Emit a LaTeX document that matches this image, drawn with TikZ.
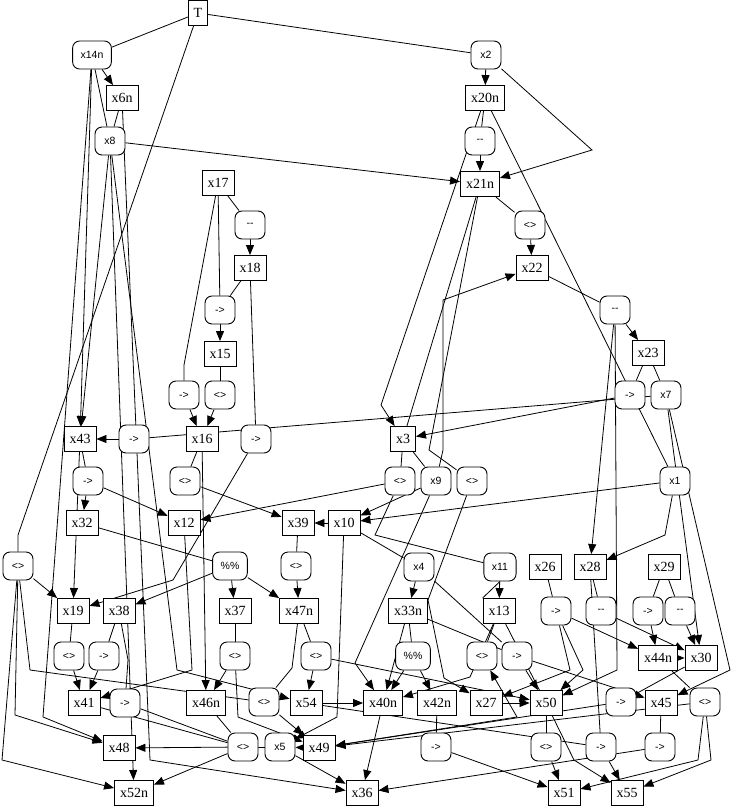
\documentclass[tikz,border=0pt]{standalone}
\usepackage{fontspec}
\setmainfont{Liberation Serif}
\newfontfamily\opfont{Liberation Sans}
\usetikzlibrary{arrows.meta, positioning, backgrounds}
\tikzset{
  box/.style={rectangle, draw=black, line width=0.9pt, fill=white,
              minimum height=25pt, inner xsep=5.5pt, inner ysep=2pt,
              font=\fontsize{14}{14}\selectfont},
  opbox/.style={rectangle, rounded corners=7pt, draw=black, line width=0.9pt,
                fill=white, minimum height=28pt, minimum width=30pt,
                inner xsep=8pt, font=\opfont\fontsize{10.5}{10.5}\selectfont},
  line/.style={draw=black, line width=0.8pt},
  arrow/.style={-{Triangle[length=10pt, width=8pt]}, line width=0.8pt, draw=black},
}

\begin{document}
\begin{tikzpicture}[x=1pt, y=-1pt]
  \useasboundingbox (0,0) rectangle (733,808);

  % Variables
  \node[box] (T) at (198,13) {T};
  \node[box] (x6n) at (122,98) {x6n};
  \node[box] (x20n) at (485,98) {x20n};
  \node[box] (x21n) at (480,184) {x21n};
  \node[box] (x17) at (218,183) {x17};
  \node[box] (x18) at (250,268) {x18};
  \node[box] (x22) at (532,268) {x22};
  \node[box] (x15) at (220,354) {x15};
  \node[box] (x23) at (648,353) {x23};
  \node[box] (x43) at (80,439) {x43};
  \node[box] (x16) at (202,439) {x16};
  \node[box] (x3) at (403,439) {x3};
  \node[box] (x32) at (82,523) {x32};
  \node[box] (x12) at (184,523) {x12};
  \node[box] (x39) at (298,523) {x39};
  \node[box] (x10) at (344,523) {x10};
  \node[box] (x26) at (545,567) {x26};
  \node[box] (x28) at (590,567) {x28};
  \node[box] (x29) at (664,567) {x29};
  \node[box] (x19) at (73,611) {x19};
  \node[box] (x38) at (119,611) {x38};
  \node[box] (x37) at (235,611) {x37};
  \node[box] (x47n) at (299,611) {x47n};
  \node[box] (x33n) at (408,611) {x33n};
  \node[box] (x13) at (499,611) {x13};
  \node[box] (x44n) at (658,658) {x44n};
  \node[box] (x30) at (701,658) {x30};
  \node[box] (x41) at (84,703) {x41};
  \node[box] (x46n) at (206,703) {x46n};
  \node[box] (x54) at (306,703) {x54};
  \node[box] (x40n) at (383,703) {x40n};
  \node[box] (x42n) at (437,703) {x42n};
  \node[box] (x27) at (486,703) {x27};
  \node[box] (x50) at (546,703) {x50};
  \node[box] (x45) at (661,703) {x45};
  \node[box] (x48) at (119,748) {x48};
  \node[box] (x49) at (319,748) {x49};
  \node[box] (x52n) at (134,793) {x52n};
  \node[box] (x36) at (362,793) {x36};
  \node[box] (x51) at (564,793) {x51};
  \node[box] (x55) at (627,793) {x55};

  \node[opbox] (x14n) at (92,55) {x14n};
  \node[opbox] (x2) at (486,55) {x2};
  \node[opbox] (x8) at (110,141) {x8};
  \node[opbox] (x7) at (666,395) {x7};
  \node[opbox] (x9) at (436,481) {x9};
  \node[opbox] (x1) at (675,481) {x1};
  \node[opbox] (x4) at (419,567) {x4};
  \node[opbox] (x11) at (500,567) {x11};
  \node[opbox] (x5) at (280,747) {x5};

  % Operators
  \node[opbox] (dec1) at (480,141) {{-}{-}};
  \node[opbox] (dec2) at (250,225) {{-}{-}};
  \node[opbox] (neq1) at (530,225) {<>};
  \node[opbox] (dec3) at (615,310) {{-}{-}};
  \node[opbox] (imp1) at (220,310) {->};
  \node[opbox] (imp2) at (184,395) {->};
  \node[opbox] (neq2) at (220,395) {<>};
  \node[opbox] (imp3) at (630,395) {->};
  \node[opbox] (imp4) at (134,439) {->};
  \node[opbox] (imp5) at (256,439) {->};
  \node[opbox] (imp6) at (88,481) {->};
  \node[opbox] (neq3) at (185,481) {<>};
  \node[opbox] (neq4) at (400,481) {<>};
  \node[opbox] (neq5) at (472,481) {<>};
  \node[opbox] (neq6) at (18,566) {<>};
  \node[opbox] (mod1) at (230,566) {\%\%};
  \node[opbox] (neq7) at (296,566) {<>};
  \node[opbox] (imp7) at (556,611) {->};
  \node[opbox] (dec4) at (601,611) {{-}{-}};
  \node[opbox] (imp8) at (648,611) {->};
  \node[opbox] (dec5) at (680,611) {{-}{-}};
  \node[opbox] (neq8) at (69,656) {<>};
  \node[opbox] (imp9) at (104,656) {->};
  \node[opbox] (neq9) at (235,656) {<>};
  \node[opbox] (neq10) at (316,656) {<>};
  \node[opbox] (mod2) at (413,656) {\%\%};
  \node[opbox] (neq11) at (482,656) {<>};
  \node[opbox] (imp10) at (517,656) {->};
  \node[opbox] (imp11) at (125,703) {->};
  \node[opbox] (neq12) at (264,702) {<>};
  \node[opbox] (imp12) at (621,702) {->};
  \node[opbox] (neq13) at (705,702) {<>};
  \node[opbox] (neq14) at (243,747) {<>};
  \node[opbox] (imp13) at (436,747) {->};
  \node[opbox] (neq15) at (546,747) {<>};
  \node[opbox] (imp14) at (601,747) {->};
  \node[opbox] (imp15) at (660,747) {->};

  % Bends
  \coordinate (bT) at (18,535);
  \coordinate (bX2) at (592,150);
  \coordinate (bX17) at (184,365);
  \coordinate (bX20) at (381,405);
  \coordinate (bX9a) at (443,450);
  \coordinate (bX9b) at (443,300);
  \coordinate (bX21) at (429,450);
  \coordinate (bN4) at (375,535);
  \coordinate (bX1) at (665,535);
  \coordinate (bImp5) at (173,580);
  \coordinate (bN6a) at (15,715);
  \coordinate (bN6b) at (2,760);
  \coordinate (bN6c) at (30,670);
  \coordinate (bX14) at (43,717);
  \coordinate (bX38) at (128,660);
  \coordinate (bX47) at (292,668);
  \coordinate (bX12) at (192,670);
  \coordinate (bX8) at (177,670);
  \coordinate (bN9) at (238,717);
  \coordinate (bX9c) at (355,663);
  \coordinate (bX13) at (470,677);
  \coordinate (bN5a) at (428,600);
  \coordinate (bN5b) at (444,678);
  \coordinate (bImp7a) at (570,670);
  \coordinate (bImp7b) at (583,670);
  \coordinate (bDec3) at (617,670);
  \coordinate (bX7) at (730,670);
  \coordinate (bX6) at (150,760);
  \coordinate (bX50) at (574,760);
  \coordinate (bN13a) at (698,760);
  \coordinate (bN13b) at (711,760);
  \coordinate (bX49) at (517,717);
  \coordinate (bX10) at (337,717);

  \begin{scope}[on background layer]
    % Operands
    \draw[line] (T) -- (x14n);
    \draw[line] (T) -- (x2);
    \draw[line] (T) -- (bT) -- (neq6);
    \draw[line] (x14n) -- (x8);
    \draw[line] (x6n) -- (x8);
    \draw[line] (x20n) -- (dec1);
    \draw[line] (x21n) -- (neq1);
    \draw[line] (x17) -- (dec2);
    \draw[line] (x17) -- (imp1);
    \draw[line] (x17) -- (bX17) -- (imp2);
    \draw[line] (x18) -- (imp1);
    \draw[line] (x18) -- (imp5);
    \draw[line] (x22) -- (dec3);
    \draw[line] (x15) -- (neq2);
    \draw[line] (x23) -- (imp3);
    \draw[line] (x23) -- (x7);
    \draw[line] (x20n) -- (x1);
    \draw[line] (x21n) -- (x3);
    \draw[line] (x21n) -- (bX21) -- (neq5);
    \draw[line] (x7) -- (imp4);
    \draw[line] (x16) -- (neq3);
    \draw[line] (x43) -- (imp6);
    \draw[line] (x3) -- (neq4);
    \draw[line] (x3) -- (x9);
    \draw[line] (neq4) -- (bN4) -- (x11);
    \draw[line] (x10) -- (x4);
    \draw[line] (x39) -- (neq7);
    \draw[line] (x32) -- (mod1);
    \draw[line] (neq6) -- (bN6c) -- (neq12);
    \draw[line] (x26) -- (imp7);
    \draw[line] (x28) -- (dec4);
    \draw[line] (x28) -- (imp14);
    \draw[line] (x29) -- (imp8);
    \draw[line] (x29) -- (dec5);
    \draw[line] (x19) -- (neq8);
    \draw[line] (x38) -- (imp9);
    \draw[line] (x38) -- (bX38) -- (imp11);
    \draw[line] (x37) -- (neq9);
    \draw[line] (x47n) -- (neq10);
    \draw[line] (x47n) -- (bX47) -- (neq12);
    \draw[line] (x33n) -- (mod2);
    \draw[line] (x33n) -- (imp10);
    \draw[line] (x13) -- (neq11);
    \draw[line] (x13) -- (x50);
    \draw[line] (x4) -- (imp10);
    \draw[line] (x44n) -- (neq13);
    \draw[line] (x41) -- (neq14);
    \draw[line] (imp11) -- (neq14);
    \draw[line] (x46n) -- (neq14);
    \draw[line] (x5) -- (neq14);
    \draw[line] (x42n) -- (imp13);
    \draw[line] (x45) -- (imp15);
    \draw[line] (x50) -- (neq15);
    \draw[line] (x54) -- (imp14);
    \draw[line] (x30) -- (imp12);
    \draw[line] (x13.north west) -- (x11.south);

    % Results
    \draw[arrow] (x14n) -- (x6n);
    \draw[arrow] (x2) -- (x20n);
    \draw[arrow] (x2) -- (bX2) -- (x21n);
    \draw[arrow] (x8) -- (x21n);
    \draw[arrow] (dec1) -- (x21n);
    \draw[arrow] (neq1) -- (x22);
    \draw[arrow] (dec2) -- (x18);
    \draw[arrow] (imp1) -- (x15);
    \draw[arrow] (imp2) -- (x16);
    \draw[arrow] (neq2) -- (x16);
    \draw[arrow] (dec3) -- (x23);
    \draw[arrow] (dec3) -- (x28);
    \draw[arrow] (dec3) -- (bDec3) -- (x50);
    \draw[arrow] (x14n) -- (x43);
    \draw[arrow] (x8) -- (x43);
    \draw[arrow] (x20n) -- (bX20) -- (x3);
    \draw[arrow] (imp3) -- (x3);
    \draw[arrow] (imp4) -- (x43);
    \draw[arrow] (imp5) -- (bImp5) -- (x19);
    \draw[arrow] (x9) -- (bX9a) -- (bX9b) -- (x22);
    \draw[arrow] (imp6) -- (x32);
    \draw[arrow] (imp6) -- (x12);
    \draw[arrow] (neq3) -- (x39);
    \draw[arrow] (neq4) -- (x12);
    \draw[arrow] (x9) -- (x10);
    \draw[arrow] (x1) -- (x10);
    \draw[arrow] (x10) -- (x39);
    \draw[arrow] (x1) -- (bX1) -- (x28);
    \draw[arrow] (x16) -- (x46n);
    \draw[arrow] (neq7) -- (x47n);
    \draw[arrow] (x43) -- (x19);
    \draw[arrow] (neq6) -- (x19);
    \draw[arrow] (neq6) -- (bN6a) -- (x48);
    \draw[arrow] (neq6) -- (bN6b) -- (x52n);
    \draw[arrow] (x14n) -- (bX14) -- (x48);
    \draw[arrow] (mod1) -- (x38);
    \draw[arrow] (mod1) -- (x37);
    \draw[arrow] (mod1) -- (x47n);
    \draw[arrow] (x4) -- (x33n);
    \draw[arrow] (x11) -- (x13);
    \draw[arrow] (imp7) -- (x44n);
    \draw[arrow] (imp7) -- (bImp7a) -- (x27);
    \draw[arrow] (imp7) -- (bImp7b) -- (x50);
    \draw[arrow] (imp8) -- (x44n);
    \draw[arrow] (dec5) -- (x30);
    \draw[arrow] (dec4) -- (x30);
    \draw[arrow] (x7) -- (x30);
    \draw[arrow] (x7) -- (bX7) -- (x45);
    \draw[arrow] (neq8) -- (x41);
    \draw[arrow] (imp9) -- (x41);
    \draw[arrow] (x12) -- (bX12) -- (x41);
    \draw[arrow] (x8) -- (bX8) -- (x54);
    \draw[arrow] (neq9) -- (x46n);
    \draw[arrow] (neq9) -- (bN9) -- (x49);
    \draw[arrow] (neq10) -- (x54);
    \draw[arrow] (neq10) -- (x50);
    \draw[arrow] (x9) -- (bX9c) -- (x40n);
    \draw[arrow] (x33n) -- (x40n);
    \draw[arrow] (mod2) -- (x40n);
    \draw[arrow] (mod2) -- (x42n);
    \draw[arrow] (x13) -- (bX13) -- (x40n);
    \draw[arrow] (neq5) -- (bN5a) -- (bN5b) -- (x27);
    \draw[arrow] (imp10) -- (x50);
    \draw[arrow] (imp10) -- (x45);
    \draw[arrow] (x44n) -- (x30);
    \draw[arrow] (x27) -- (x50);
    \draw[arrow] (x54) -- (x40n);
    \draw[arrow] (neq12) -- (x49);
    \draw[arrow] (x40n) -- (x36);
    \draw[arrow] (x5) -- (x36);
    \draw[arrow] (x49) -- (x5);
    \draw[arrow] (neq14) -- (x48);
    \draw[arrow] (neq14) -- (x52n);
    \draw[arrow] (x8) -- (x52n);
    \draw[arrow] (x6n) -- (bX6) -- (x36);
    \draw[arrow] (imp13) -- (x51);
    \draw[arrow] (imp15) -- (x36);
    \draw[arrow] (neq15) -- (x51);
    \draw[arrow] (x50) -- (bX50) -- (x55);
    \draw[arrow] (imp14) -- (x55);
    \draw[arrow] (neq13) -- (bN13a) -- (x51);
    \draw[arrow] (neq13) -- (bN13b) -- (x55);
    \draw[arrow] (imp12) -- (x49);
    \draw[arrow] (neq13) -- (x49);
    \draw[arrow] (x49) -- (bX49) -- (neq11);
    \draw[arrow] (x10) -- (bX10) -- (x5);
  \end{scope}
\end{tikzpicture}
\end{document}
